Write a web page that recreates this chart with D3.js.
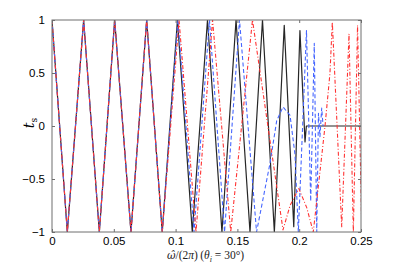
<!DOCTYPE html>
<html>
<head>
<meta charset="utf-8">
<script src="https://cdn.jsdelivr.net/npm/d3@7"></script>
<style>
  body { margin: 0; background: #fff; }
  .tick text { font-family: "Liberation Sans", Arial, sans-serif; font-size: 11.5px; fill: #000; }
</style>
</head>
<body>
<div id="chart"></div>
<script>
// tick values and labels
const xTicks = [0, 0.05, 0.1, 0.15, 0.2, 0.25];
const xTickLabels = ["0", "0.05", "0.1", "0.15", "0.2", "0.25"];
const yTicks = [-1, -0.5, 0, 0.5, 1];
const yTickLabels = ["\u22121", "\u22120.5", "0", "0.5", "1"];

// black solid series (omega/2pi, t_s)
const blackW = [0, 0.0124, 0.0256, 0.0383, 0.0507, 0.0639, 0.0766, 0.0892, 0.1015, 0.1135, 0.1258, 0.1375,
  0.1489, 0.1602, 0.1703, 0.1799, 0.1879, 0.1956, 0.2006, 0.2047, 0.2058, 0.25];
const blackT = [1, -1, 1, -1, 1, -1, 1, -1, 1, -1, 1, -1, 1, -1, 1, -1, 0.95, -0.95, 0.9, -0.15, 0, 0];

// blue dashed series
const blueW = [0, 0.0124, 0.0256, 0.0383, 0.0507, 0.0639, 0.0766, 0.0892, 0.1019, 0.1149, 0.1274, 0.1396,
  0.1517, 0.1655, 0.1764, 0.1818, 0.1869, 0.1926, 0.1966, 0.1993, 0.2059, 0.2093, 0.2122, 0.2142,
  0.2156, 0.2168, 0.2182, 0.2193];
const blueT = [1, -1, 1, -1, 1, -1, 1, -1, 1, -1, 1, -1, 1, -1, -0.35, 0.05, 0.18, 0.1, -0.27, -1, 0.9, -0.71,
  0.78, -1, 0.12, -0.1, 0.17, 0];

// red dash-dot series
const redW = [0, 0.0124, 0.0256, 0.0383, 0.0507, 0.0639, 0.0766, 0.0892, 0.1028, 0.1165, 0.1299, 0.1446,
  0.1622, 0.1869, 0.1926, 0.1997, 0.2061, 0.2114, 0.2209, 0.2249, 0.2268, 0.2344, 0.2403, 0.2438, 0.2472, 0.2505];
const redT = [1, -1, 1, -1, 1, -1, 1, -1, 1, -1, 1, -1, 1, -0.98, -0.75, -0.59, -0.77, -1, 0, 0.5, 0.98, -0.95,
  0.87, -1, 0.95, -0.9];

// dimensions and margins
const margin = {top: 20, right: 38, bottom: 30, left: 52},
    width = 399 - margin.left - margin.right,
    height = 262 - margin.top - margin.bottom;

const svg = d3.select("#chart")
  .append("svg")
  .attr("width", 399)
  .attr("height", 262)
  .append("g")
  .attr("transform", `translate(${margin.left},${margin.top})`);

const x = d3.scaleLinear().domain([0, 0.25]).range([0, width]);
const y = d3.scaleLinear().domain([-1, 1]).range([height, 0]);

svg.append("clipPath").attr("id", "clip")
  .append("rect").attr("width", width).attr("height", height);

// lines
const line = d3.line().x(d => x(d[0])).y(d => y(d[1]));
const series = [
  {w: blackW, t: blackT, color: "#262626", dash: null, sw: 1.2},
  {w: blueW, t: blueT, color: "#4666ff", dash: "4,2.5", sw: 1.1},
  {w: redW, t: redT, color: "#ff3333", dash: "4,2,1,2", sw: 1.1}
];
series.forEach(s => {
  svg.append("path")
    .datum(s.w.map((w, i) => [w, s.t[i]]))
    .attr("clip-path", "url(#clip)")
    .attr("fill", "none")
    .attr("stroke", s.color)
    .attr("stroke-width", s.sw)
    .attr("stroke-dasharray", s.dash)
    .attr("stroke-linejoin", "round")
    .attr("d", line);
});

// axes, ticks pointing inward
const axisColor = "#6f6f6f";
const xb = svg.append("g").attr("transform", `translate(0,${height})`)
  .call(d3.axisBottom(x).tickValues(xTicks).tickSize(-3).tickPadding(5)
    .tickFormat((d, i) => xTickLabels[i]));
const xt = svg.append("g")
  .call(d3.axisTop(x).tickValues(xTicks).tickSize(-3).tickFormat(""));
const yl = svg.append("g")
  .call(d3.axisLeft(y).tickValues(yTicks).tickSize(-3).tickPadding(7)
    .tickFormat((d, i) => yTickLabels[i]));
const yr = svg.append("g").attr("transform", `translate(${width},0)`)
  .call(d3.axisRight(y).tickValues(yTicks).tickSize(-3).tickFormat(""));
[xb, xt, yl, yr].forEach(g => {
  g.select(".domain").remove();
  g.selectAll(".tick line").attr("stroke", axisColor);
});

// frame
svg.append("rect")
  .attr("width", width).attr("height", height)
  .attr("fill", "none").attr("stroke", axisColor).attr("stroke-width", 1);

// y label
const yLab = svg.append("text")
  .attr("transform", `translate(-18,${height / 2 - 3}) rotate(-90)`)
  .attr("text-anchor", "middle")
  .style("font-family", "'DejaVu Serif', serif")
  .style("font-size", "14px");
yLab.append("tspan").style("font-style", "italic").text("t");
yLab.append("tspan").attr("dy", 3).style("font-size", "9px").text("s");

// x label
const xLab = svg.append("text")
  .attr("x", width / 2 - 1).attr("y", height + 27)
  .attr("text-anchor", "middle")
  .style("font-family", "'Liberation Serif', 'DejaVu Serif', serif")
  .style("font-size", "11.5px")
  .attr("fill", "#222");
xLab.append("tspan").style("font-style", "italic")
  .style("font-family", "'DejaVu Serif', serif").style("font-size", "10.5px").text("\u03C9\u0302");
xLab.append("tspan").text("/(2");
xLab.append("tspan").style("font-style", "italic").text("\u03C0");
xLab.append("tspan").text(")\u2009(");
xLab.append("tspan").style("font-style", "italic").text("\u03B8");
xLab.append("tspan").attr("dy", 2.5).style("font-size", "8px").style("font-style", "italic").text("i");
xLab.append("tspan").attr("dy", -2.5).text(" = 30\u00B0)");
</script>
</body>
</html>
